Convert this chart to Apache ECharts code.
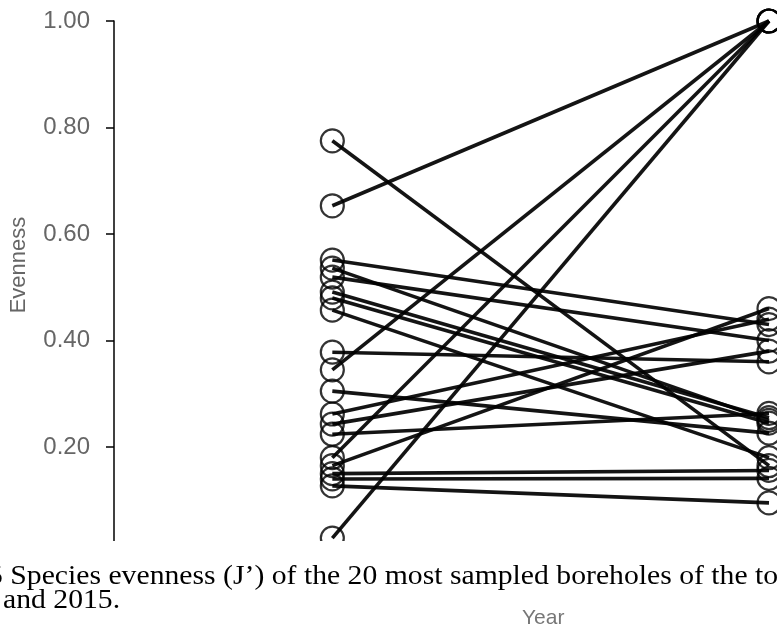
<!DOCTYPE html>
<html>
<head>
<meta charset="utf-8">
<script src="https://cdn.jsdelivr.net/npm/echarts@6/dist/echarts.min.js"></script>
<style>
  html, body { margin: 0; padding: 0; background: #fff; }
  #chart { width: 777px; height: 633px; }
</style>
</head>
<body>
<div id="chart"></div>
<script>
// Two sampling years compared per borehole
const years = [2014, 2015];
// Evenness (J') per borehole in the first year
const evenFirst = [0.775, 0.653, 0.551, 0.536, 0.519, 0.491, 0.480, 0.457, 0.378, 0.345,
                   0.305, 0.262, 0.243, 0.224, 0.180, 0.165, 0.150, 0.140, 0.127, 0.029];
// Evenness (J') per borehole in 2015
const evenSecond = [0.165, 1.000, 0.430, 0.250, 0.400, 0.255, 0.245, 0.180, 0.360, 1.000,
                    0.226, 0.440, 0.380, 0.263, 1.000, 0.460, 0.156, 0.141, 0.095, 1.000];
// Y axis tick values
const yTicks = [0.20, 0.40, 0.60, 0.80, 1.00];

const series = evenFirst.map((v, i) => ({
  type: 'line',
  data: [[years[0], v], [years[1], evenSecond[i]]],
  symbol: 'circle',
  symbolSize: 23,
  showSymbol: true,
  itemStyle: { color: 'rgba(255,255,255,0)', borderColor: 'rgba(0,0,0,0.8)', borderWidth: 2.2 },
  lineStyle: { color: 'rgba(0,0,0,0.92)', width: 3.6 },
  emphasis: { disabled: true },
  clip: false,
  animation: false
}));

const chart = echarts.init(document.getElementById('chart'));
chart.setOption({
  animation: false,
  grid: { left: 114, right: 8, top: 21, bottom: 79.5 },
  xAxis: {
    type: 'value', min: 2013.5, max: 2015, show: false
  },
  yAxis: {
    type: 'value', min: 0, max: 1, interval: 0.2,
    axisLine: { show: true, lineStyle: { color: '#000', width: 1.5 } },
    axisTick: { show: true, length: 8, lineStyle: { color: '#000', width: 1.5 } },
    splitLine: { show: false },
    axisLabel: {
      color: '#666', fontSize: 24, fontFamily: 'Liberation Sans', margin: 24,
      formatter: v => yTicks.some(t => Math.abs(t - v) < 1e-9) ? v.toFixed(2) : ''
    }
  },
  series: series,
  graphic: [
    { type: 'text', z: 101, x: 19, y: 265, rotation: Math.PI / 2,
      style: { text: 'Evenness', fill: '#666', font: '22px "Liberation Sans"',
               align: 'center', verticalAlign: 'middle' } },
    { type: 'rect', z: 100, shape: { x: 0, y: 541, width: 777, height: 92 }, style: { fill: '#fff' } },
    { type: 'text', z: 101, x: -12, y: 563, scaleX: 1.1,
      style: { text: '5 Species evenness (J\u2019) of the 20 most sampled boreholes of the to', fill: '#000',
               font: '27px "Liberation Serif"' } },
    { type: 'text', z: 101, x: 3, y: 587, scaleX: 1.1,
      style: { text: 'and 2015.', fill: '#000', font: '27px "Liberation Serif"' } },
    { type: 'text', z: 101, x: 522, y: 608,
      style: { text: 'Year', fill: '#777', font: '21px "Liberation Sans"' } }
  ]
});
</script>
</body>
</html>
